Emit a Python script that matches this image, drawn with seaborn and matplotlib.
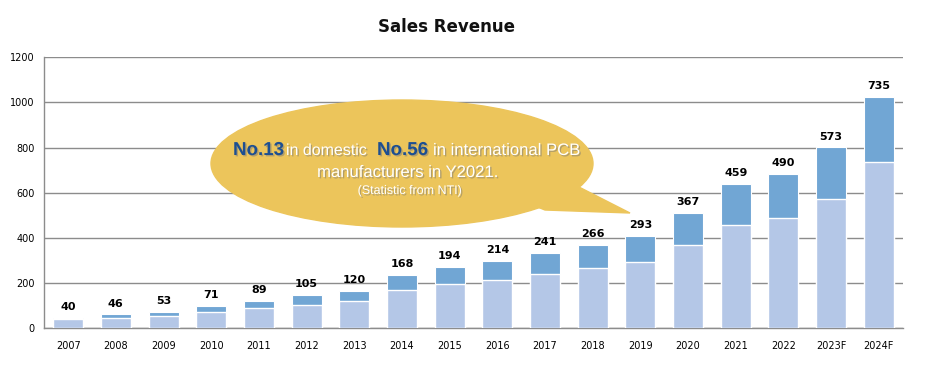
import numpy as np
import pandas as pd
import seaborn as sns
import matplotlib.pyplot as plt
import matplotlib.patheffects as pe
from matplotlib.patches import Ellipse, Polygon

# data
years = ['2007', '2008', '2009', '2010', '2011', '2012', '2013', '2014', '2015',
         '2016', '2017', '2018', '2019', '2020', '2021', '2022', '2023F', '2024F']
revenue = [40, 46, 53, 71, 89, 105, 120, 168, 194, 214, 241, 266, 293, 367, 459, 490, 573, 735]
extra = [7, 17, 20, 29, 33, 44, 46, 69, 79, 86, 94, 104, 117, 145, 181, 195, 228, 291]
yticks = [0, 200, 400, 600, 800, 1000, 1200]

df = pd.DataFrame({'year': years, 'lower': revenue, 'total': np.add(revenue, extra)})

sns.set_style('white')
plt.rcParams['font.family'] = ['DejaVu Sans']

W, H = 935, 374
fig = plt.figure(figsize=(W / 100, H / 100), dpi=100)
ax = fig.add_axes([44.3 / W, 1 - 328.3 / H, (902.7 - 44.3) / W, (328.3 - 57.3) / H])


def fx(x):
    return x / W


def fy(y):
    return 1 - y / H


# stacked bars: total (dark) behind, revenue (light) in front
sns.barplot(data=df, x='year', y='total', color='#71a6d4', width=0.63, saturation=1,
            edgecolor='white', linewidth=0.8, ax=ax, zorder=3)
sns.barplot(data=df, x='year', y='lower', color='#b4c7e7', width=0.63, saturation=1,
            edgecolor='white', linewidth=1, ax=ax, zorder=3)

for i, (v, t) in enumerate(zip(df['lower'], df['total'])):
    ax.annotate(str(v), (i, t), xytext=(0, 4), textcoords='offset points',
                ha='center', va='bottom', fontsize=8, fontweight='bold', color='black')

ax.set_ylim(0, 1200)
ax.set_yticks(yticks)
ax.set_xlabel('')
ax.set_ylabel('')
ax.yaxis.grid(True, color='#8c8c8c', linewidth=1)
ax.set_axisbelow(True)
ax.tick_params(axis='x', length=0, labelsize=7, pad=9, labelcolor='black')
ax.tick_params(axis='y', length=0, labelsize=7, pad=7, labelcolor='black')
for side in ['top', 'right']:
    ax.spines[side].set_visible(False)
for side in ['left', 'bottom']:
    ax.spines[side].set_color('#8c8c8c')
    ax.spines[side].set_linewidth(1)

fig.text(fx(446), fy(27), 'Sales Revenue', ha='center', va='center',
         fontsize=12, fontweight='bold', color='#111111')

# speech bubble
bubble = '#ecc55b'
fig.add_artist(Ellipse((fx(402), fy(163.5)), 382 / W, 127 / H, transform=fig.transFigure,
                       color=bubble, zorder=5))
tail = [(520, 200), (545, 210), (630, 213), (575, 185)]
fig.add_artist(Polygon([(fx(x), fy(y)) for x, y in tail], closed=True,
                       transform=fig.transFigure, color=bubble, zorder=5))

shadow = [pe.withSimplePatchShadow(offset=(1, -1), shadow_rgbFace='#777777', alpha=0.5)]
navy = '#1d4f91'
arial = ['Liberation Sans', 'DejaVu Sans']
base1 = fy(155)
fig.text(fx(233), base1, 'No.13', fontsize=13.5, fontweight='bold', color=navy,
         va='baseline', family=arial, path_effects=shadow, zorder=6)
fig.text(fx(286), base1, 'in domestic', fontsize=11.5, color='white',
         va='baseline', family=arial, path_effects=shadow, zorder=6)
fig.text(fx(377), base1, 'No.56', fontsize=13.5, fontweight='bold', color=navy,
         va='baseline', family=arial, path_effects=shadow, zorder=6)
fig.text(fx(433), base1, 'in international PCB', fontsize=12, color='white',
         va='baseline', family=arial, path_effects=shadow, zorder=6)
fig.text(fx(408), fy(177), 'manufacturers in Y2021.', fontsize=12, color='white',
         ha='center', va='baseline', family=arial, path_effects=shadow, zorder=6)
fig.text(fx(410), fy(194), '(Statistic from NTI)', fontsize=9, color='white',
         ha='center', va='baseline', family=arial, path_effects=shadow, zorder=6)

fig.savefig('out.png', dpi=100)
